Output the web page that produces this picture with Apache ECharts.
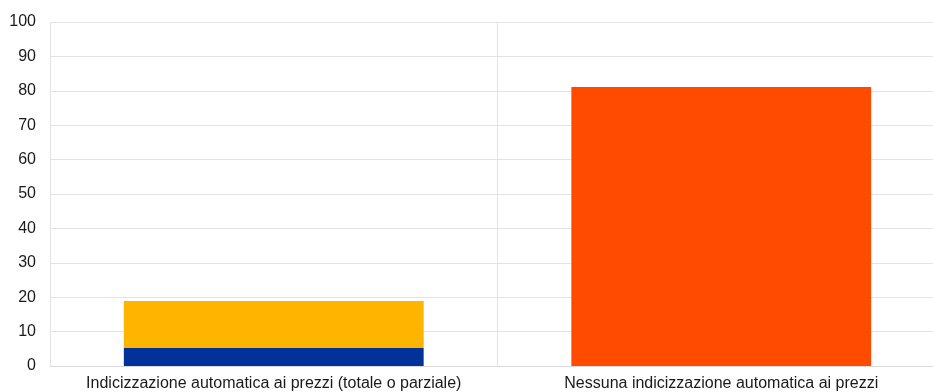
<!DOCTYPE html>
<html><head><meta charset="utf-8">
<script src="https://cdn.jsdelivr.net/npm/echarts@6/dist/echarts.min.js"></script>
<style>html,body{margin:0;padding:0;background:#fff;overflow:hidden;width:933px;height:392px}#c{width:945px;height:392px}</style>
</head><body><div id="c"></div>
<script>
const categories = ["Indicizzazione automatica ai prezzi (totale o parziale)", "Nessuna indicizzazione automatica ai prezzi"];
const seriesBlue = [5.2, "-"];
const seriesYellow = [13.7, "-"];
const seriesOrange = ["-", 81.1];
const yTicks = {min: 0, max: 100, interval: 10};

const chart = echarts.init(document.getElementById('c'), null, {renderer: 'canvas'});
const font = "'Liberation Sans', Arial, sans-serif";
chart.setOption({
  animation: false,
  grid: {left: 50, right: 0, top: 22, bottom: 26, containLabel: false},
  xAxis: {
    type: 'category', data: categories, boundaryGap: true,
    axisLine: {show: true, lineStyle: {color: '#d9d9d9', width: 1}},
    axisTick: {show: false},
    splitLine: {show: true, lineStyle: {color: '#e3e3e3', width: 1}},
    axisLabel: {color: '#1a1a1a', fontFamily: font, fontSize: 16, margin: 10, interval: 0}
  },
  yAxis: {
    type: 'value', min: yTicks.min, max: yTicks.max, interval: yTicks.interval,
    axisLine: {show: false}, axisTick: {show: false},
    splitLine: {show: true, lineStyle: {color: '#e3e3e3', width: 1}},
    axisLabel: {color: '#1a1a1a', fontFamily: font, fontSize: 16, margin: 14}
  },
  series: [
    {type: 'bar', stack: 's', data: seriesBlue, barWidth: '67%', itemStyle: {color: '#003299'}},
    {type: 'bar', stack: 's', data: seriesYellow, barWidth: '67%', itemStyle: {color: '#FFB400'}},
    {type: 'bar', stack: 's', data: seriesOrange, barWidth: '67%', itemStyle: {color: '#FF4B00'}}
  ]
});
</script></body></html>
